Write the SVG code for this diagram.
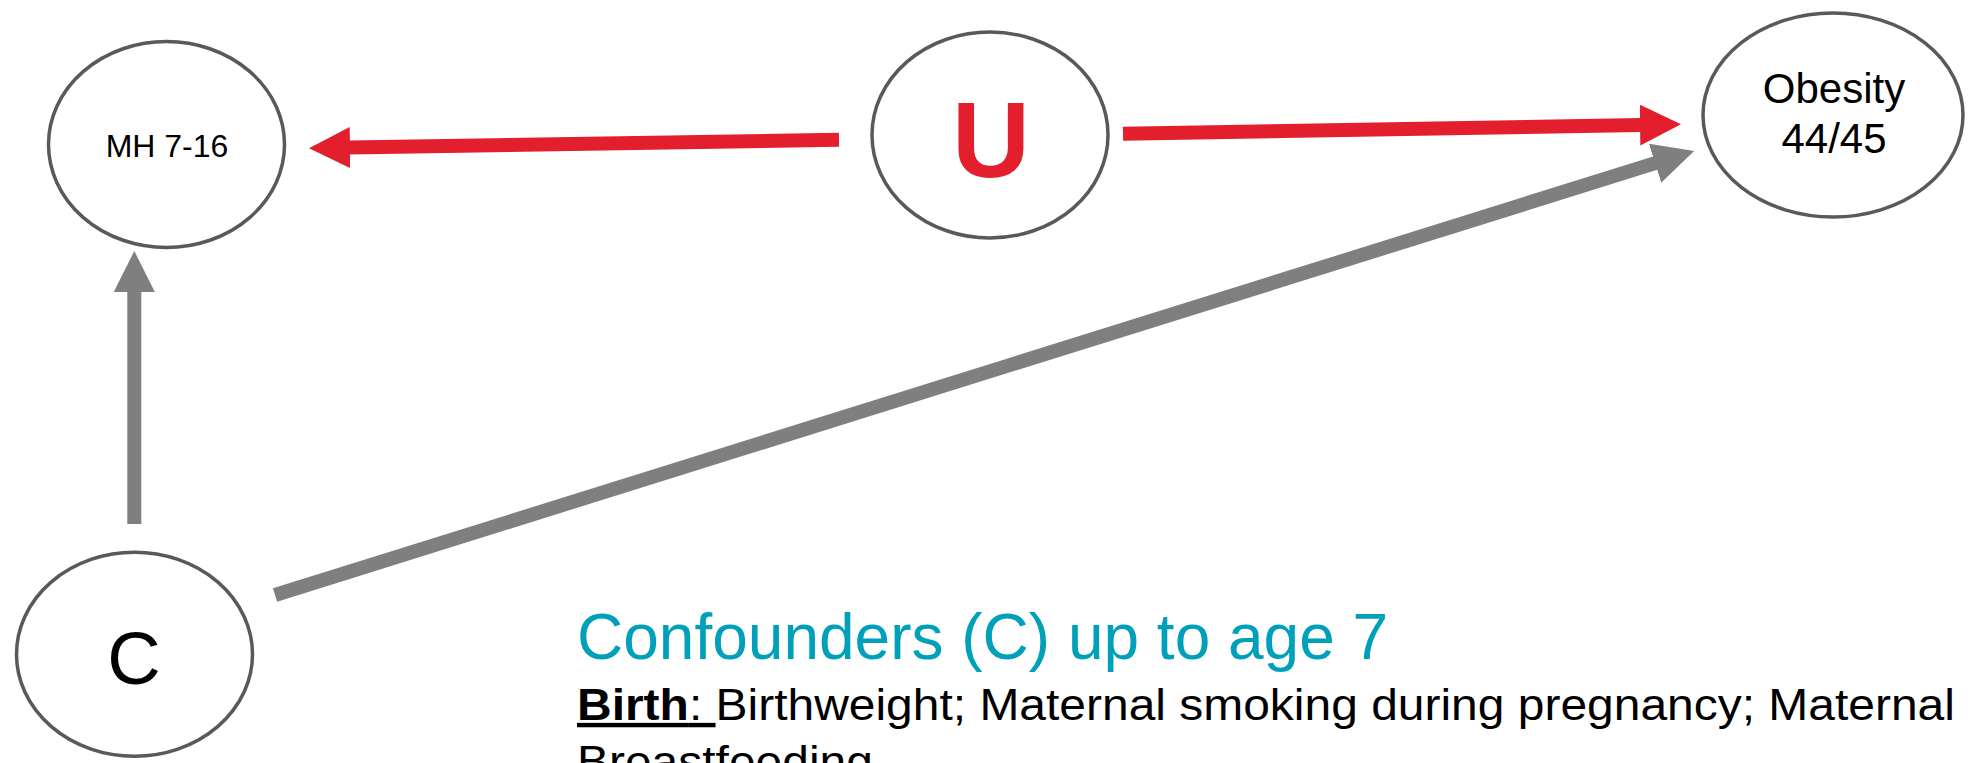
<svg xmlns="http://www.w3.org/2000/svg" width="1970" height="763" viewBox="0 0 1970 763">
  <style>
    .node { fill: #FFFFFF; stroke: #595959; stroke-width: 3.5; }
    .lbl { font-family: "Liberation Sans", Arial, sans-serif; fill: #000000; text-anchor: middle; }
    .red { stroke: #E31F2D; stroke-width: 14; fill: none; }
    .gray { stroke: #7F7F7F; stroke-width: 14; fill: none; }
    .note { font-family: "Liberation Sans", Arial, sans-serif; fill: #000000; font-size: 44px; }
  </style>
  <defs>
    <marker id="headRed" markerUnits="userSpaceOnUse" markerWidth="42" markerHeight="42" viewBox="0 0 42 42" refX="1" refY="20.5" orient="auto">
      <path d="M0,0 L41,20.5 L0,41 Z" fill="#E31F2D"/>
    </marker>
    <marker id="headGray" markerUnits="userSpaceOnUse" markerWidth="42" markerHeight="42" viewBox="0 0 42 42" refX="1" refY="20.5" orient="auto">
      <path d="M0,0 L41,20.5 L0,41 Z" fill="#7F7F7F"/>
    </marker>
  </defs>
  <rect width="1970" height="763" fill="#FFFFFF"/>

  <g id="connectors">
    <line class="red" x1="839" y1="139.7" x2="349" y2="147.6" marker-end="url(#headRed)"/>
    <line class="red" x1="1123" y1="133.7" x2="1641" y2="125" marker-end="url(#headRed)"/>
    <line class="gray" x1="134.3" y1="524" x2="134.3" y2="291" marker-end="url(#headGray)"/>
    <line class="gray" x1="275" y1="595" x2="1656" y2="162.9" marker-end="url(#headGray)"/>
  </g>

  <g id="node-mh">
    <ellipse class="node" cx="166.5" cy="144.5" rx="118" ry="103"/>
    <text class="lbl" x="167" y="157" font-size="32">MH 7-16</text>
  </g>

  <g id="node-u">
    <ellipse class="node" cx="990" cy="135" rx="118" ry="103"/>
    <text class="lbl" x="991" y="177" font-size="108" font-weight="bold" style="fill:#E31F2D">U</text>
  </g>

  <g id="node-obesity">
    <ellipse class="node" cx="1833" cy="115" rx="130" ry="102"/>
    <text class="lbl" x="1834" y="103" font-size="42">Obesity</text>
    <text class="lbl" x="1834" y="153" font-size="42">44/45</text>
  </g>

  <g id="node-c">
    <ellipse class="node" cx="134.5" cy="654.3" rx="118" ry="102"/>
    <text class="lbl" x="134" y="684" font-size="74">C</text>
  </g>

  <g id="confounders-note">
    <text x="577" y="659" font-family="'Liberation Sans', Arial, sans-serif" font-size="64" fill="#00A0BA">Confounders (C) up to age 7</text>
    <g transform="translate(577,0) scale(1.09,1)">
      <text class="note" x="0" y="720"><tspan text-decoration="underline"><tspan font-weight="bold">Birth</tspan>: </tspan>Birthweight; Maternal smoking during pregnancy; Maternal</text>
      <text class="note" x="0" y="777">Breastfeeding</text>
    </g>
  </g>
</svg>
